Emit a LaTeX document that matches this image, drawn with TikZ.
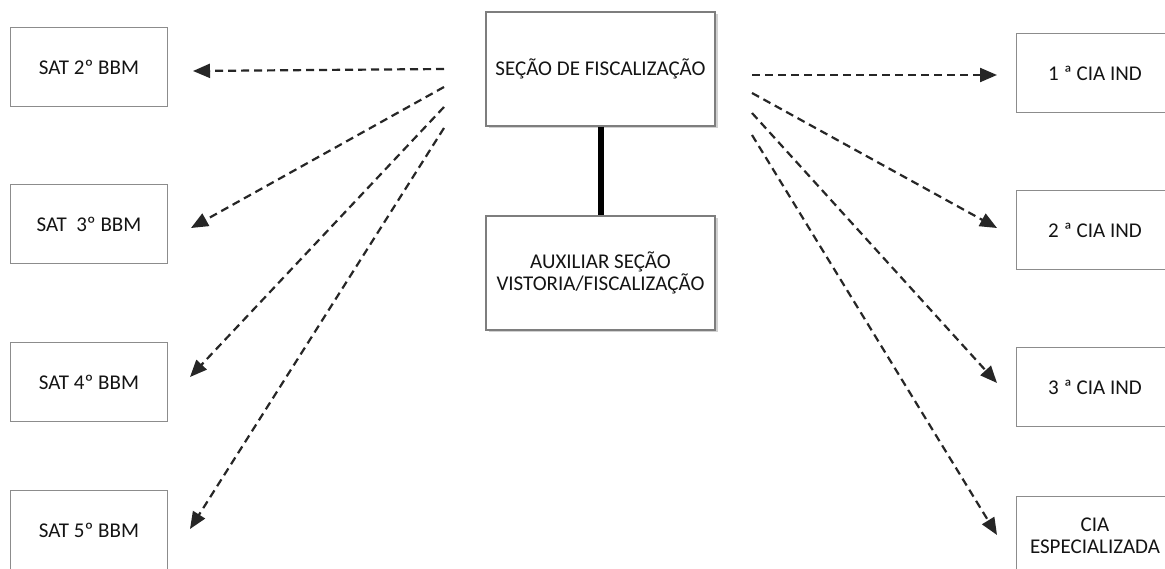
\documentclass[tikz,border=0pt]{standalone}
\usepackage{fontspec}
\setmainfont{Carlito}
\usetikzlibrary{arrows.meta}
\definecolor{boxline}{HTML}{8C8C8C}
\definecolor{txt}{HTML}{141414}
\definecolor{arr}{HTML}{262626}
\tikzset{
  sidebox/.style={draw=boxline, line width=1.3pt, fill=white, minimum width=157pt, minimum height=79pt, inner sep=0pt, align=center, text=txt, font=\fontsize{21}{22}\selectfont},
  centerbox/.style={draw=boxline!90!black, line width=1.3pt, fill=white, minimum width=229pt, minimum height=114pt, inner sep=0pt, align=center, text=txt, font=\fontsize{21}{22}\selectfont},
  shadowbox/.style={fill=black!18, draw=none, minimum width=229pt, minimum height=114pt, inner sep=0pt},
  dasharrow/.style={draw=arr, line width=2.2pt, dash pattern=on 8pt off 5pt, -{Triangle[length=17pt,width=14pt]}},
  joinline/.style={draw=black, line width=6pt}
}
\begin{document}
\begin{tikzpicture}[x=1pt,y=-1pt]
\useasboundingbox (0,0) rectangle (1165,569);
\clip (0,0) rectangle (1165,569);
\fill[white] (0,0) rectangle (1165,569);
% left boxes
\node[sidebox] (sat2) at (89,67) {SAT 2º BBM};
\node[sidebox] (sat3) at (89,224) {SAT\ \ 3º BBM};
\node[sidebox] (sat4) at (89,382) {SAT 4º BBM};
\node[sidebox] (sat5) at (89,530) {SAT 5º BBM};
% right boxes
\node[sidebox] (cia1) at (1095,73) {1 ª CIA IND};
\node[sidebox] (cia2) at (1095,230) {2 ª CIA IND};
\node[sidebox] (cia3) at (1095,387) {3 ª CIA IND};
\node[sidebox] (ciae) at (1095,536) {CIA\\ESPECIALIZADA};
% center boxes with soft shadow
\node[shadowbox] (shtop) at (603.5,71) {};
\node[shadowbox] (shbot) at (603.5,275) {};
\node[centerbox] (top) at (600.5,69) {SEÇÃO DE FISCALIZAÇÃO};
\node[centerbox] (bot) at (600.5,273) {AUXILIAR SEÇÃO\\VISTORIA/FISCALIZAÇÃO};
\draw[joinline] (top.south) -- (bot.north);
% arrow start and end points
\coordinate (sl1) at (444,69);
\coordinate (sl2) at (444,87);
\coordinate (sl3) at (444,107);
\coordinate (sl4) at (444,128);
\coordinate (tl1) at (193,71);
\coordinate (tl2) at (191,228);
\coordinate (tl3) at (190,377);
\coordinate (tl4) at (190,529);
\coordinate (sr1) at (752,75);
\coordinate (sr2) at (752,93);
\coordinate (sr3) at (752,113);
\coordinate (sr4) at (752,135);
\coordinate (tr1) at (997,75);
\coordinate (tr2) at (997,228);
\coordinate (tr3) at (997,383);
\coordinate (tr4) at (997,535);
\draw[dasharrow] (sl1) -- (tl1);
\draw[dasharrow] (sl2) -- (tl2);
\draw[dasharrow] (sl3) -- (tl3);
\draw[dasharrow] (sl4) -- (tl4);
\draw[dasharrow] (sr1) -- (tr1);
\draw[dasharrow] (sr2) -- (tr2);
\draw[dasharrow] (sr3) -- (tr3);
\draw[dasharrow] (sr4) -- (tr4);
\end{tikzpicture}
\end{document}
